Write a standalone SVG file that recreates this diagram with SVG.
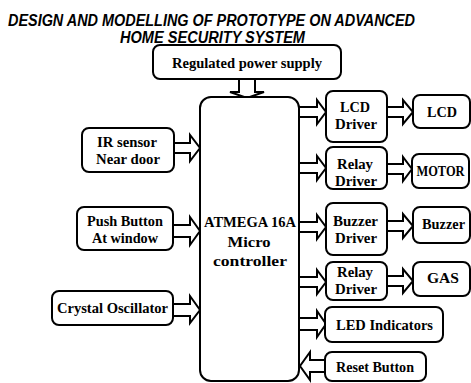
<svg xmlns="http://www.w3.org/2000/svg" width="471" height="383" viewBox="0 0 471 383">
<style>
.box{fill:#fff;stroke:#000;stroke-width:2}
.t{font-family:"Liberation Serif","Times New Roman",serif;font-weight:bold;font-size:15px;fill:#000;text-anchor:middle}
.title{font-family:"Liberation Sans",Arial,sans-serif;font-weight:bold;font-style:italic;font-size:16px;fill:#000}
.arr{fill:#fff;stroke:#000;stroke-width:2;stroke-linejoin:miter}
</style>
<rect width="471" height="383" fill="#fff"/>
<text class="title" x="8" y="26" textLength="407" lengthAdjust="spacingAndGlyphs">DESIGN AND MODELLING OF PROTOTYPE ON ADVANCED</text>
<text class="title" x="120" y="43" textLength="185" lengthAdjust="spacingAndGlyphs">HOME SECURITY SYSTEM</text>

<g id="connectors">
  <path class="arr" d="M239 79 L239 92 L230 92 L247 98 L264 92 L255 92 L255 79"/>
  <path class="arr" d="M174 143 L190 143 L190 135 L200 148 L190 161 L190 153 L174 153"/>
  <path class="arr" d="M174 225 L190 225 L190 217 L200 231 L190 245 L190 237 L174 237"/>
  <path class="arr" d="M174 304 L190 304 L190 296 L200 310 L190 323 L190 316 L174 316"/>
  <path class="arr" d="M299 107 L317 107 L317 100 L326 112 L317 124 L317 117 L299 117"/>
  <path class="arr" d="M299 163 L317 163 L317 156 L326 168 L317 180 L317 173 L299 173"/>
  <path class="arr" d="M299 222 L317 222 L317 215 L326 227 L317 239 L317 232 L299 232"/>
  <path class="arr" d="M299 277 L317 277 L317 270 L326 282 L317 294 L317 287 L299 287"/>
  <path class="arr" d="M299 318 L317 318 L317 311 L326 324 L317 337 L317 330 L299 330"/>
  <path class="arr" d="M326 360 L310 360 L310 352 L300 366 L310 380 L310 372 L326 372"/>
  <path class="arr" d="M387 107 L403 107 L403 100 L413 112 L403 124 L403 117 L387 117"/>
  <path class="arr" d="M387 164 L403 164 L403 157 L412 169 L403 181 L403 174 L387 174"/>
  <path class="arr" d="M387 221 L403 221 L403 214 L413 226 L403 238 L403 231 L387 231"/>
  <path class="arr" d="M387 276 L403 276 L403 269 L413 281 L403 293 L403 286 L387 286"/>
</g>

<g id="power">
  <rect class="box" x="153" y="45" width="188" height="34" rx="7"/>
  <text class="t" x="247" y="68" textLength="150" lengthAdjust="spacingAndGlyphs">Regulated power supply</text>
</g>
<g id="controller">
  <rect class="box" x="200" y="97" width="99" height="284" rx="11"/>
  <text class="t" x="250" y="227" textLength="92" lengthAdjust="spacingAndGlyphs">ATMEGA 16A</text>
  <text class="t" x="249" y="247" textLength="43" lengthAdjust="spacingAndGlyphs">Micro</text>
  <text class="t" x="250" y="266" textLength="74" lengthAdjust="spacingAndGlyphs">controller</text>
</g>
<g id="ir">
  <rect class="box" x="82" y="128" width="92" height="44" rx="7"/>
  <text class="t" x="127" y="147" textLength="60" lengthAdjust="spacingAndGlyphs">IR sensor</text>
  <text class="t" x="128" y="164" textLength="64" lengthAdjust="spacingAndGlyphs">Near door</text>
</g>
<g id="push">
  <rect class="box" x="77" y="207" width="96" height="43" rx="7"/>
  <text class="t" x="125" y="226" textLength="76" lengthAdjust="spacingAndGlyphs">Push Button</text>
  <text class="t" x="125" y="243" textLength="66" lengthAdjust="spacingAndGlyphs">At window</text>
</g>
<g id="crystal">
  <rect class="box" x="52" y="291" width="121" height="34" rx="7"/>
  <text class="t" x="112.5" y="313" textLength="111" lengthAdjust="spacingAndGlyphs">Crystal Oscillator</text>
</g>
<g id="lcddriver">
  <rect class="box" x="326" y="91" width="61" height="51" rx="7"/>
  <text class="t" x="355" y="112" textLength="30" lengthAdjust="spacingAndGlyphs">LCD</text>
  <text class="t" x="356" y="129" textLength="42" lengthAdjust="spacingAndGlyphs">Driver</text>
</g>
<g id="relay1">
  <rect class="box" x="326" y="147" width="61" height="42" rx="7"/>
  <text class="t" x="355" y="169" textLength="36" lengthAdjust="spacingAndGlyphs">Relay</text>
  <text class="t" x="356" y="186" textLength="42" lengthAdjust="spacingAndGlyphs">Driver</text>
</g>
<g id="buzzerdriver">
  <rect class="box" x="326" y="203" width="61" height="52" rx="7"/>
  <text class="t" x="355.5" y="226" textLength="45" lengthAdjust="spacingAndGlyphs">Buzzer</text>
  <text class="t" x="356" y="243" textLength="42" lengthAdjust="spacingAndGlyphs">Driver</text>
</g>
<g id="relay2">
  <rect class="box" x="326" y="262" width="61" height="38" rx="7"/>
  <text class="t" x="355" y="277" textLength="36" lengthAdjust="spacingAndGlyphs">Relay</text>
  <text class="t" x="356" y="294" textLength="42" lengthAdjust="spacingAndGlyphs">Driver</text>
</g>
<g id="led">
  <rect class="box" x="325" y="307" width="118" height="35" rx="7"/>
  <text class="t" x="384.5" y="330" textLength="97" lengthAdjust="spacingAndGlyphs">LED Indicators</text>
</g>
<g id="reset">
  <rect class="box" x="325" y="352" width="101" height="29" rx="7"/>
  <text class="t" x="375" y="372" textLength="78" lengthAdjust="spacingAndGlyphs">Reset Button</text>
</g>
<g id="lcd">
  <rect class="box" x="413" y="95" width="57" height="33" rx="7"/>
  <text class="t" x="442" y="117" textLength="30" lengthAdjust="spacingAndGlyphs">LCD</text>
</g>
<g id="motor">
  <rect class="box" x="412" y="154" width="57" height="34" rx="7"/>
  <text class="t" x="440.5" y="176" font-size="13" textLength="48" lengthAdjust="spacingAndGlyphs">MOTOR</text>
</g>
<g id="buzzer">
  <rect class="box" x="413" y="207" width="57" height="36" rx="7"/>
  <text class="t" x="443.5" y="229" textLength="43" lengthAdjust="spacingAndGlyphs">Buzzer</text>
</g>
<g id="gas">
  <rect class="box" x="413" y="262" width="57" height="34" rx="7"/>
  <text class="t" x="443" y="283" textLength="32" lengthAdjust="spacingAndGlyphs">GAS</text>
</g>
</svg>
